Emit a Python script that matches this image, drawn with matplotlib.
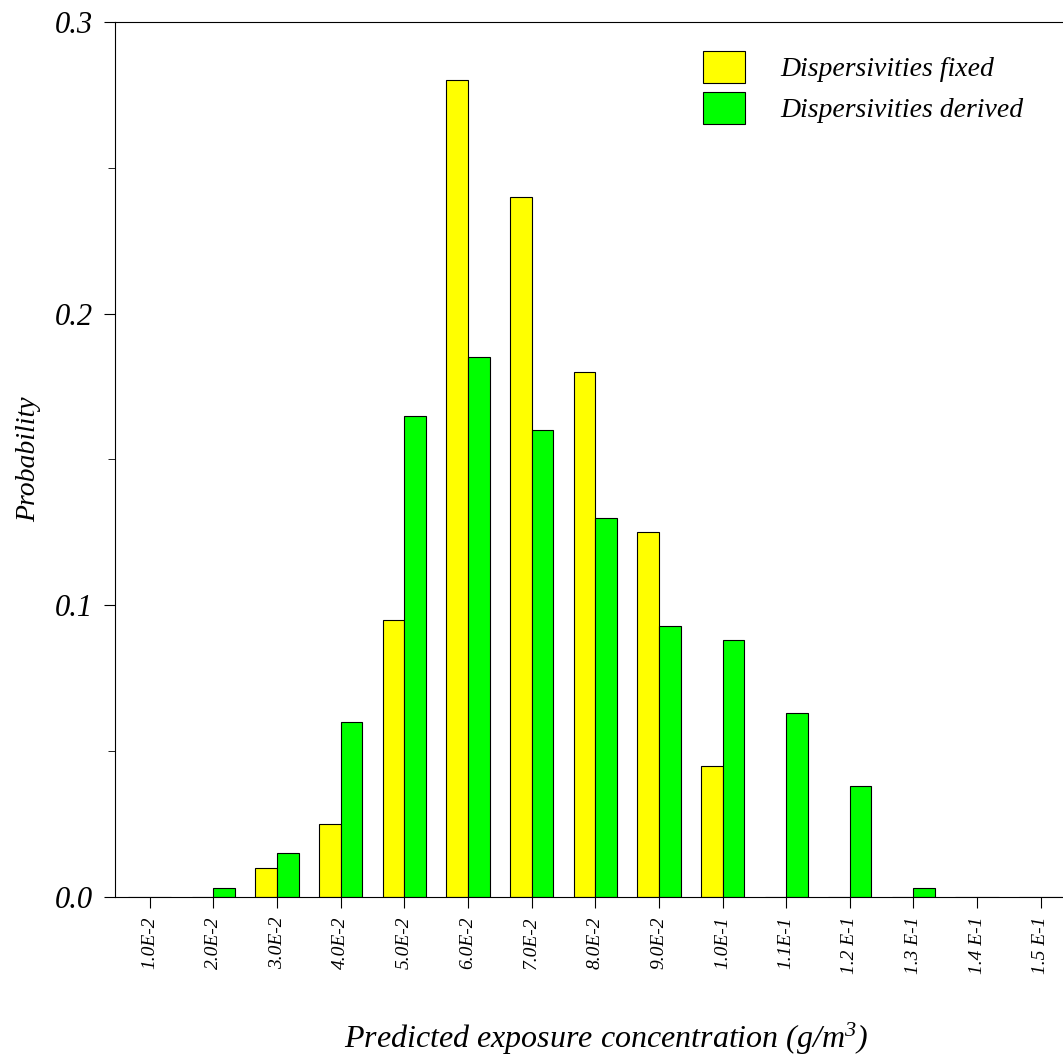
import matplotlib
matplotlib.use("Agg")
from matplotlib import pyplot as plt
import numpy as np

plt.rcParams['font.family'] = ['Liberation Serif', 'DejaVu Serif']
plt.rcParams['font.style'] = 'italic'
plt.rcParams['mathtext.fontset'] = 'custom'
plt.rcParams['mathtext.it'] = 'Liberation Serif:italic'
plt.rcParams['mathtext.rm'] = 'Liberation Serif:italic'

labels = ["1.0E-2", "2.0E-2", "3.0E-2", "4.0E-2", "5.0E-2", "6.0E-2", "7.0E-2",
          "8.0E-2", "9.0E-2", "1.0E-1", "1.1E-1", "1.2 E-1", "1.3 E-1", "1.4 E-1", "1.5 E-1"]
fixed = [0, 0, 0.010, 0.025, 0.095, 0.280, 0.240, 0.180, 0.125, 0.045, 0, 0, 0, 0, 0]
derived = [0, 0.003, 0.015, 0.060, 0.165, 0.185, 0.160, 0.130, 0.093, 0.088, 0.063, 0.038, 0.003, 0, 0]

x = np.arange(len(labels))
w = 0.34

fig = plt.figure(figsize=(10.63, 10.57), dpi=100)
ax = fig.add_axes([0.108, 0.1514, 0.892, 0.828])
ax.bar(x - w / 2, fixed, w, color="#ffff00", edgecolor="black", linewidth=0.8,
       label="Dispersivities fixed")
ax.bar(x + w / 2, derived, w, color="#00ff00", edgecolor="black", linewidth=0.8,
       label="Dispersivities derived")

ax.set_xlim(-0.55, 14.35)
ax.set_ylim(0, 0.3)
ax.set_yticks([0, 0.1, 0.2, 0.3])
ax.set_yticklabels(["0.0", "0.1", "0.2", "0.3"], fontsize=22)
ax.set_yticks([0.05, 0.15, 0.25], minor=True)
ax.set_xticks(x)
ax.set_xticklabels(labels, rotation=90, fontsize=14)
ax.tick_params(axis="y", which="major", length=8, pad=8)
ax.tick_params(axis="y", which="minor", length=5)
ax.tick_params(axis="x", length=8, pad=6)
ax.spines["right"].set_visible(False)

ax.set_ylabel("Probability", fontsize=20)
ax.yaxis.set_label_coords(-0.078, 0.5)
ax.set_xlabel("Predicted exposure concentration (g/m$^{3}$)", fontsize=23)
ax.xaxis.set_label_coords(0.518, -0.142)

ax.legend(loc="upper right", frameon=False, fontsize=20, handlelength=1.5,
          handleheight=1.4, handletextpad=1.3, labelspacing=0.3,
          bbox_to_anchor=(0.985, 0.995))

fig.savefig("out.png")
